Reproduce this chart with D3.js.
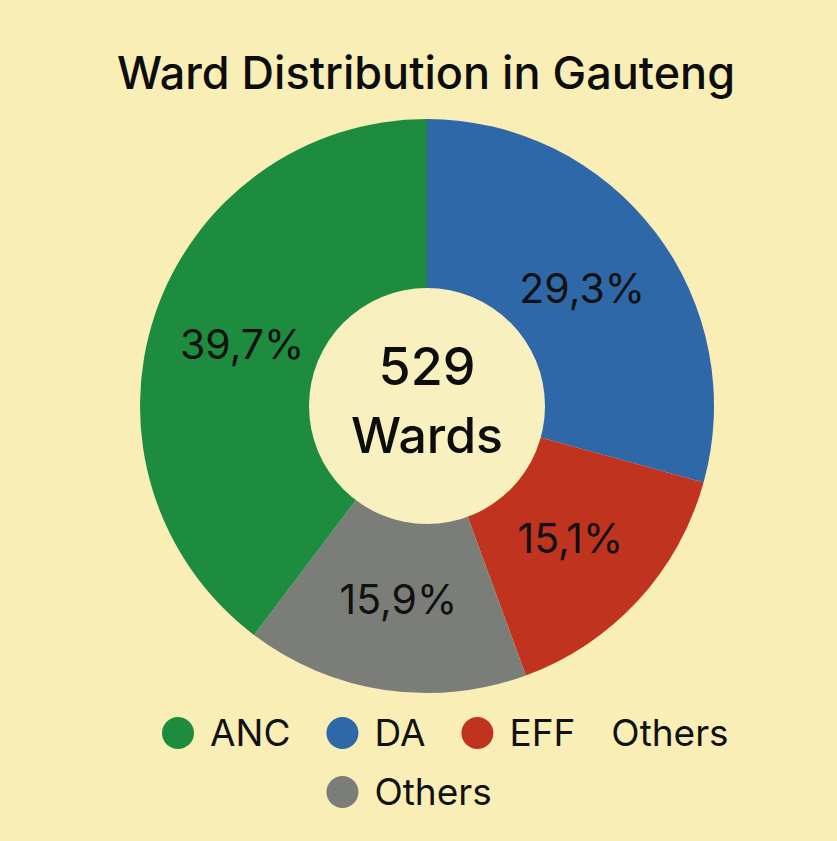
<!DOCTYPE html>
<html>
<head>
<meta charset="utf-8">
<script src="https://cdn.jsdelivr.net/npm/d3@7"></script>
<style>
    html, body { margin: 0; padding: 0; background: #f8eeb6; }
    svg { display: block; }
</style>
</head>
<body>
<svg id="chart"></svg>
<script>
// data
const parties = ["DA", "EFF", "Others", "ANC"];
const shares = [29.3, 15.1, 15.9, 39.7];
const shareLabels = ["29,3%", "15,1%", "15,9%", "39,7%"];
const partyColors = ["#2f68a9", "#c0331f", "#7b7d79", "#1e8c3e"];
const totalWards = 529;

// legend as drawn: first row has a stray "Others" without a dot
const legendRow1 = ["ANC", "DA", "EFF", "Others"];
const legendRow1Dot = [true, true, true, false];
const legendRow2 = ["Others"];

const BG = "#f8eeb6";
const HOLE = "#f9f0c0";
const FONT = "Inter, 'DejaVu Sans', sans-serif";

const width = 837;
const height = 841;
const cx = 427, cy = 406;
const outerR = 287, innerR = 118, labelR = 195;

const svg = d3.select("svg#chart")
    .attr("width", width)
    .attr("height", height)
    .style("font-family", FONT);

svg.append("rect")
    .attr("width", width).attr("height", height)
    .attr("fill", BG);

svg.append("text")
    .attr("x", 426).attr("y", 89)
    .attr("text-anchor", "middle")
    .attr("font-size", 45)
    .attr("font-weight", 500)
    .attr("fill", "#0d0d0d")
    .text("Ward Distribution in Gauteng");

const color = d3.scaleOrdinal().domain(parties).range(partyColors);

const pie = d3.pie().sort(null).value(d => d.v);
const arcs = pie(parties.map((p, i) => ({name: p, v: shares[i], label: shareLabels[i]})));

const arc = d3.arc().innerRadius(0).outerRadius(outerR);
const labelArc = d3.arc().innerRadius(labelR).outerRadius(labelR);

const g = svg.append("g").attr("transform", `translate(${cx},${cy})`);

g.selectAll("path.slice")
    .data(arcs)
    .join("path")
    .attr("class", "slice")
    .attr("d", arc)
    .attr("fill", d => color(d.data.name));

g.append("circle")
    .attr("r", innerR)
    .attr("fill", HOLE);

g.selectAll("text.pct")
    .data(arcs)
    .join("text")
    .attr("class", "pct")
    .attr("transform", d => `translate(${labelArc.centroid(d)})`)
    .attr("text-anchor", "middle")
    .attr("dy", "0.36em")
    .attr("font-size", 41)
    .attr("fill", "#111")
    .text(d => d.data.label);

g.append("text")
    .attr("y", -21)
    .attr("text-anchor", "middle")
    .attr("font-size", 52)
    .attr("font-weight", 500)
    .attr("fill", "#0d0d0d")
    .text(totalWards);

g.append("text")
    .attr("y", 47)
    .attr("text-anchor", "middle")
    .attr("font-size", 50)
    .attr("font-weight", 500)
    .attr("fill", "#0d0d0d")
    .text("Wards");

// legend
const dotR = 16, dotGap = 16, itemGap = 36;
const legend = svg.append("g").attr("font-size", 37).attr("fill", "#111");

let x = 162;
const row1X = [];
legendRow1.forEach((name, i) => {
    const item = legend.append("g").attr("transform", `translate(${x},733)`);
    row1X.push(x);
    let tx = 0;
    if (legendRow1Dot[i]) {
        item.append("circle").attr("cx", dotR).attr("r", dotR).attr("fill", color(name));
        tx = dotR * 2 + dotGap;
    }
    const t = item.append("text").attr("x", tx).attr("dy", "0.36em").text(name);
    x += tx + t.node().getComputedTextLength() + itemGap;
});

legendRow2.forEach((name, i) => {
    const item = legend.append("g").attr("transform", `translate(${row1X[1]},792)`);
    item.append("circle").attr("cx", dotR).attr("r", dotR).attr("fill", color(name));
    item.append("text").attr("x", dotR * 2 + dotGap).attr("dy", "0.36em").text(name);
});
</script>
</body>
</html>
